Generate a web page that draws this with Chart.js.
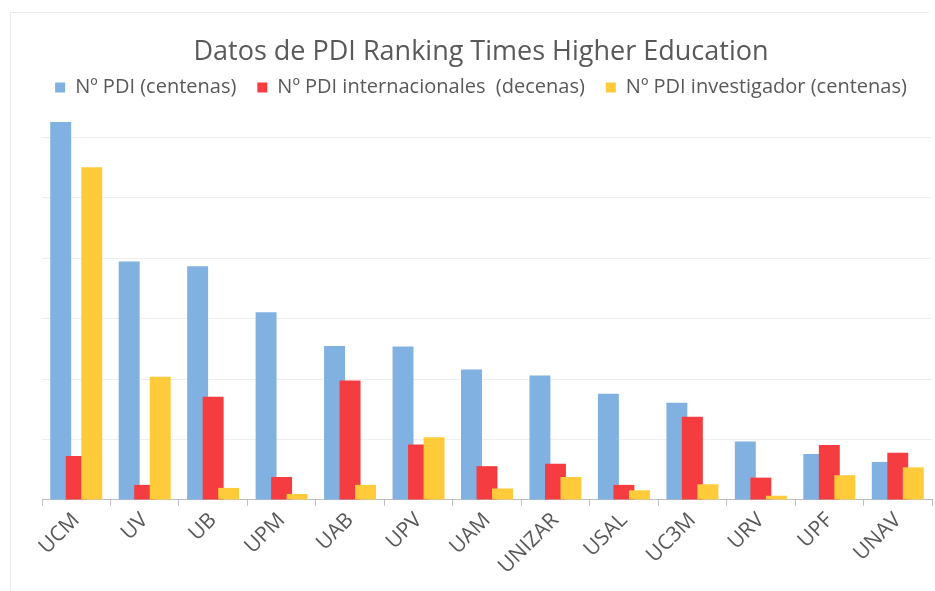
<!DOCTYPE html>
<html>
<head>
<meta charset="utf-8">
<title>Datos de PDI Ranking Times Higher Education</title>
<script src="https://cdn.jsdelivr.net/npm/chart.js@4.4.1/dist/chart.umd.min.js"></script>
<style>
    html, body { margin: 0; padding: 0; background: #fff; }
    #frame {
        position: absolute; left: 10px; top: 12px; width: 918px; height: 580px;
        border-top: 1px solid #e9e9e9; border-left: 1px solid #e9e9e9;
    }
    #wrap { position: absolute; left: 0; top: 0; width: 935px; height: 591px; }
</style>
</head>
<body>
<div id="frame"></div>
<div id="wrap"><canvas id="chart"></canvas></div>
<script>
const universidades = ['UCM', 'UV', 'UB', 'UPM', 'UAB', 'UPV', 'UAM', 'UNIZAR', 'USAL', 'UC3M', 'URV', 'UPF', 'UNAV'];
const pdiCentenas = [62.6, 39.5, 38.7, 31.1, 25.5, 25.4, 21.6, 20.6, 17.6, 16.1, 9.7, 7.6, 6.3];
const pdiInternacionales = [7.3, 2.5, 17.1, 3.8, 19.8, 9.2, 5.6, 6.0, 2.5, 13.8, 3.7, 9.1, 7.8];
const pdiInvestigador = [55.1, 20.4, 2.0, 1.0, 2.5, 10.4, 1.9, 3.8, 1.6, 2.6, 0.7, 4.1, 5.4];

Chart.defaults.font.family = "'Open Sans', sans-serif";
Chart.defaults.color = '#595959';

// Chart.js paints the first dataset on top; Excel paints later series over earlier ones
const drawInSeriesOrder = {
    id: 'drawInSeriesOrder',
    beforeDatasetsDraw(chart) {
        chart.getSortedVisibleDatasetMetas().forEach(meta => meta.controller.draw());
        return false;
    }
};

const barStyle = { barPercentage: 1.35, categoryPercentage: 0.68 };

new Chart(document.getElementById('chart'), {
    type: 'bar',
    data: {
        labels: universidades,
        datasets: [
            { label: 'Nº PDI (centenas)', data: pdiCentenas, backgroundColor: '#80b1e1', ...barStyle },
            { label: 'Nº PDI internacionales  (decenas)', data: pdiInternacionales, backgroundColor: '#f53d41', ...barStyle },
            { label: 'Nº PDI investigador (centenas)', data: pdiInvestigador, backgroundColor: '#ffcb3a', ...barStyle }
        ]
    },
    options: {
        responsive: true,
        maintainAspectRatio: false,
        animation: false,
        layout: { padding: { left: 30, right: 3, top: 12, bottom: 10 } },
        plugins: {
            title: {
                display: true,
                text: 'Datos de PDI Ranking Times Higher Education',
                color: '#595959',
                font: { size: 27, weight: 'normal' },
                padding: { top: 24, bottom: -12 }
            },
            legend: {
                position: 'top',
                labels: {
                    boxWidth: 10,
                    boxHeight: 10,
                    padding: 21,
                    color: '#595959',
                    font: { size: 20 }
                }
            },
            tooltip: { enabled: false }
        },
        scales: {
            x: {
                grid: {
                    display: true,
                    drawOnChartArea: false,
                    color: '#bfbfbf',
                    tickLength: 6
                },
                border: { color: '#bfbfbf' },
                ticks: {
                    minRotation: 45,
                    maxRotation: 45,
                    padding: 2,
                    color: '#595959',
                    font: { size: 21 }
                }
            },
            y: {
                min: 0,
                max: 65,
                border: { display: false },
                afterFit: scale => { scale.width = 12; },
                grid: {
                    drawTicks: false,
                    color: ctx => (ctx.tick && ctx.tick.value % 10 === 0 && ctx.tick.value > 0) ? '#efefef' : 'transparent'
                },
                ticks: { display: false, stepSize: 10 }
            }
        }
    },
    plugins: [drawInSeriesOrder]
});
</script>
</body>
</html>
